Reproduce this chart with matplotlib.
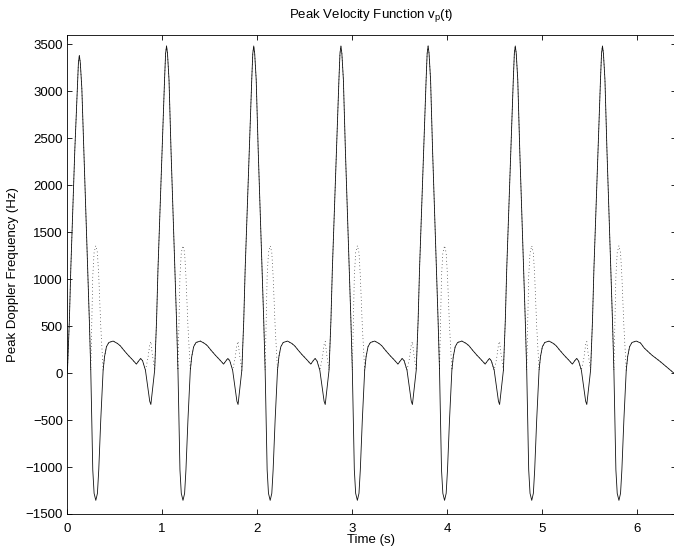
import numpy as np
import matplotlib
matplotlib.use('Agg')
import matplotlib.pyplot as plt

plt.rcParams['font.family'] = ['Liberation Sans', 'DejaVu Sans']
plt.rcParams['font.size'] = 9.5

# one heartbeat, offsets (s) relative to the systolic peak, values in Hz
beat_dt = [-0.125, -0.105, -0.09, -0.07, -0.048, -0.021, -0.01, 0.0, 0.01, 0.026,
           0.047, 0.07, 0.088, 0.105, 0.12, 0.141, 0.155, 0.173, 0.19, 0.204,
           0.225, 0.25, 0.265, 0.285, 0.31, 0.355, 0.40, 0.43, 0.47, 0.513,
           0.56, 0.60, 0.625, 0.645, 0.665, 0.695, 0.72, 0.74, 0.752, 0.767]
beat_v = [30, 560, 1110, 1700, 2370, 3120, 3400, 3480, 3400, 3120,
          2370, 1650, 1100, 560, 30, -1030, -1280, -1355, -1280, -1030,
          -500, 30, 175, 280, 325, 340, 315, 290, 240, 190,
          140, 95, 130, 155, 130, 30, -150, -300, -335, -200]

# the first beat has a lower peak
first_peak_v = {-0.021: 3030, -0.01: 3300, 0.0: 3380, 0.01: 3300, 0.026: 3030}

# last beat ends with a smooth decay instead of the notch
tail_dt = [0.40, 0.44, 0.52, 0.61, 0.68, 0.75]
tail_v = [320, 265, 190, 120, 60, 0]

period = 0.917
first_peak = 0.13
n_beats = 7

t, v = [0.0], [0.0]
for k in range(n_beats):
    tp = first_peak + k * period
    for dt, val in zip(beat_dt, beat_v):
        if k == 0 and dt in first_peak_v:
            val = first_peak_v[dt]
        if k == n_beats - 1 and dt > 0.355:
            break
        if tp + dt <= 0:
            continue
        t.append(tp + dt)
        v.append(val)
tp = first_peak + (n_beats - 1) * period
for dt, val in zip(tail_dt, tail_v):
    t.append(tp + dt)
    v.append(val)

t = np.array(t)
v = np.array(v)

fig = plt.figure(figsize=(6.74, 5.57), dpi=100)
ax = fig.add_axes([67 / 674, 43 / 557, 608.5 / 674, 479.3 / 557])

ax.plot(t, np.abs(v), color='black', lw=0.5, linestyle=(0, (1, 4)))
ax.plot(t, v, color='#111111', lw=0.6)

ax.set_xlim(0, 6.40)
ax.set_ylim(-1500, 3600)
ax.set_xticks(np.arange(0, 7, 1))
ax.set_yticks(np.arange(-1500, 3501, 500))

ax.tick_params(direction='in', length=3.5, width=0.6, top=True, right=True)
ax.tick_params(axis='x', pad=6.5)
ax.tick_params(axis='y', pad=3)
for s in ax.spines.values():
    s.set_linewidth(0.6)

ax.set_title(r'Peak Velocity Function v$_{\mathregular{p}}$(t)', pad=12, fontsize=9.5)
ax.set_xlabel('Time (s)', labelpad=-1)
ax.set_ylabel('Peak Doppler Frequency (Hz)', labelpad=5)

fig.savefig('out.png', dpi=100)
